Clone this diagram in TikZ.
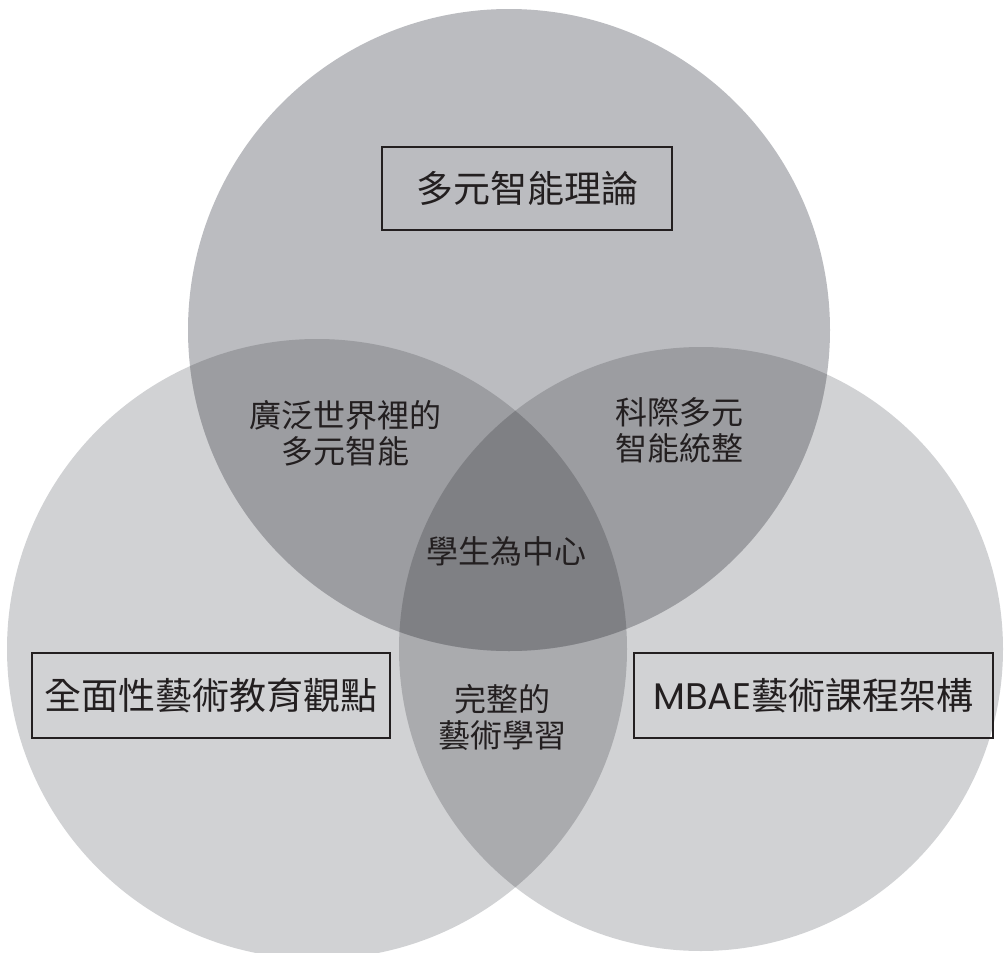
\documentclass[tikz,border=0pt]{standalone}
\usepackage{fontspec}
\setmainfont{Noto Sans CJK TC}
\newfontfamily\latfont{Poppins}
\definecolor{cTop}{RGB}{187,188,192}
\definecolor{cSide}{RGB}{209,210,212}
\definecolor{cTS}{RGB}{156,157,161}
\definecolor{cLR}{RGB}{170,171,174}
\definecolor{cTri}{RGB}{127,128,132}
\definecolor{cInk}{RGB}{35,31,32}
\tikzset{
  titlebox/.style={draw=cInk, line width=2.4pt, text=cInk, inner sep=0pt,
    font=\fontsize{37}{44}\selectfont},
  lensnote/.style={text=cInk, align=center, inner sep=0pt,
    font=\fontsize{32}{36}\selectfont}
}
\begin{document}
\begin{tikzpicture}[x=1pt,y=-1pt]
\useasboundingbox (0,0) rectangle (1005,953);
\coordinate (T) at (509,330);
\coordinate (L) at (317,649);
\coordinate (R) at (701,649);
\def\rT{321pt}
\def\rL{310pt}
\def\rR{302pt}
% side circles
\fill[cSide] (L) circle[radius=\rL];
\fill[cSide] (R) circle[radius=\rR];
\begin{scope}
  \clip (L) circle[radius=\rL];
  \fill[cLR] (R) circle[radius=\rR];
\end{scope}
% top circle
\fill[cTop] (T) circle[radius=\rT];
\begin{scope}
  \clip (T) circle[radius=\rT];
  \fill[cTS] (L) circle[radius=\rL];
  \fill[cTS] (R) circle[radius=\rR];
  \clip (L) circle[radius=\rL];
  \fill[cTri] (R) circle[radius=\rR];
\end{scope}
% boxes
\node[titlebox, minimum width=290pt, minimum height=83pt] (tbox) at (527,188.5) {多元智能理論};
\node[titlebox, minimum width=358pt, minimum height=85pt] (lbox) at (211,695.5) {全面性藝術教育觀點};
\node[titlebox, minimum width=359pt, minimum height=85pt] (rbox) at (813.5,695.5) {{\latfont MBAE}藝術課程架構};
% lens labels
\node[lensnote] (tl) at (345,433) {廣泛世界裡的\\多元智能};
\node[lensnote] (tr) at (679,430.5) {科際多元\\智能統整};
\node[lensnote] (ctr) at (506.5,551) {學生為中心};
\node[lensnote] (bot) at (502,717) {完整的\\藝術學習};
\end{tikzpicture}
\end{document}
